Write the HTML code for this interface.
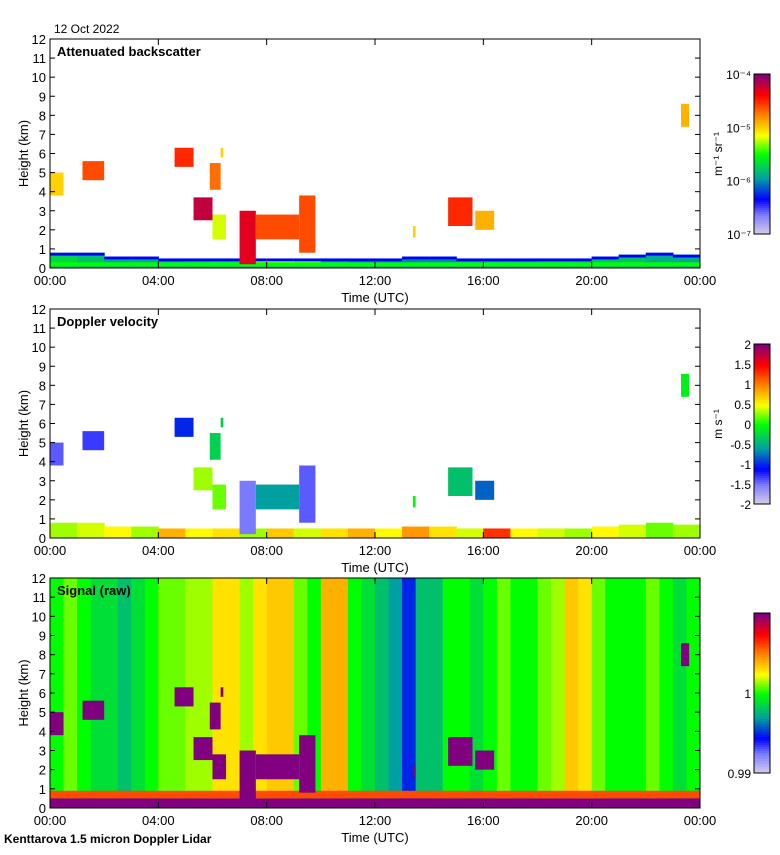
<!DOCTYPE html>
<html><head><meta charset="utf-8"><style>
body{margin:0;background:#fff;font-family:"Liberation Sans",sans-serif}
svg text{font-family:"Liberation Sans",sans-serif}
</style></head><body>
<svg id="c" width="780" height="850" xmlns="http://www.w3.org/2000/svg"></svg>
<script>
// ---- data ----
const timeTicks=["00:00","04:00","08:00","12:00","16:00","20:00","00:00"];
const heightTicks=[0,1,2,3,4,5,6,7,8,9,10,11,12];
const cloudStart=[0.0,1.2,4.6,5.9,5.3,6.0,7.0,7.6,9.2,13.4,14.7,15.7,23.3,6.3];
const cloudEnd  =[0.5,2.0,5.3,6.3,6.0,6.5,7.6,9.2,9.8,13.5,15.6,16.4,23.6,6.4];
const cloudBase =[3.8,4.6,5.3,4.1,2.5,1.5,0.2,1.5,0.8,1.6,2.2,2.0,7.4,5.8];
const cloudTop  =[5.0,5.6,6.3,5.5,3.7,2.8,3.0,2.8,3.8,2.2,3.7,3.0,8.6,6.3];
const cloudBeta =[-5.0,-4.6,-4.5,-4.7,-4.2,-5.2,-4.3,-4.6,-4.6,-5.0,-4.5,-4.9,-4.9,-5.0];
const cloudVel  =[-1.4,-1.3,-1.0,-0.3,0.3,0.2,-1.5,-0.6,-1.4,0.0,-0.4,-0.8,-0.1,-0.3];
const boundaryTop=[0.8,0.8,0.6,0.6,0.5,0.5,0.5,0.5,0.5,0.5,0.5,0.5,0.5,0.6,0.6,0.5,0.5,0.5,0.5,0.5,0.6,0.7,0.8,0.7];
const boundaryBeta=[-5.7,-5.8,-5.9,-5.9,-5.9,-5.8,-5.7,-5.0,-5.2,-5.3,-5.9,-6.0,-6.0,-6.0,-6.0,-5.9,-5.9,-5.9,-5.8,-5.8,-5.8,-5.8,-5.9,-5.9];
const boundaryVel=[0.3,0.4,0.5,0.3,0.8,0.5,0.6,0.3,0.7,0.4,0.6,0.8,0.5,0.9,0.6,0.4,1.3,0.5,0.4,0.3,0.5,0.4,0.2,0.3];
const signalBins=[1.000,1.001,1.000,0.999,0.999,0.998,0.999,1.000,1.001,1.001,1.0015,1.0015,1.003,1.003,1.0015,1.003,1.0035,1.0035,1.001,1.000,1.004,1.004,1.000,0.999,0.998,0.997,0.995,0.998,0.998,1.000,1.000,0.999,1.000,1.001,1.000,1.000,1.001,1.0015,1.0035,1.003,1.001,1.000,1.000,1.000,1.001,1.000,0.999,1.000];

const NS="http://www.w3.org/2000/svg";const svg=document.getElementById('c');
function el(t,a,p){const e=document.createElementNS(NS,t);for(const k in a)e.setAttribute(k,a[k]);(p||svg).appendChild(e);return e;}
const stops=[[0,[216,208,232]],[0.12,[128,128,255]],[0.22,[0,0,255]],[0.35,[0,160,160]],[0.5,[0,255,0]],[0.62,[255,255,0]],[0.75,[255,128,0]],[0.87,[255,0,0]],[1,[128,0,128]]];
function cmap(f){f=Math.max(0,Math.min(1,f));for(let i=1;i<stops.length;i++){if(f<=stops[i][0]){const a=stops[i-1],b=stops[i],u=(f-a[0])/(b[0]-a[0]);const c=a[1].map((v,j)=>Math.round(v+(b[1][j]-v)*u));return`rgb(${c})`;}}return'rgb(128,0,128)';}
const X0=50,X1=700;const xs=t=>X0+t/24*(X1-X0);
const panels=[{top:39,bot:268,title:"Attenuated backscatter"},{top:309,bot:538,title:"Doppler velocity"},{top:578,bot:808,title:"Signal (raw)"}];
const fBeta=b=>(b+7)/3,fVel=v=>(v+2)/4,fSig=s=>(s-0.99)/0.02;

panels.forEach((P,pi)=>{
  const ys=h=>P.bot-h/12*(P.bot-P.top);
  const g=el('g',{});
  
  
  if(pi===2){
    signalBins.forEach((s,i)=>{const r=el('rect',{x:xs(i/2),y:P.top,width:xs((i+1)/2)-xs(i/2)+0.5,height:P.bot-P.top,fill:cmap(fSig(s))},g);
      });
    el('rect',{x:X0,y:ys(0.9),width:X1-X0,height:ys(0.5)-ys(0.9),fill:cmap(0.8)},g);
    el('rect',{x:X0,y:ys(0.5),width:X1-X0,height:ys(0)-ys(0.5),fill:cmap(1)},g);
  } else {
    boundaryTop.forEach((h,i)=>{const c=pi===0?cmap(fBeta(boundaryBeta[i])):cmap(fVel(boundaryVel[i]));
      const r=el('rect',{x:xs(i),y:ys(h),width:xs(i+1)-xs(i)+0.5,height:ys(0)-ys(h),fill:c},g);
      
      if(pi===0){el('rect',{x:xs(i),y:ys(h),width:xs(i+1)-xs(i)+0.5,height:ys(h-0.15)-ys(h),fill:cmap(0.22)},g);
        el('rect',{x:xs(i),y:ys(0.3),width:xs(i+1)-xs(i)+0.5,height:ys(0.1)-ys(0.3),fill:cmap(0.5)},g);
        el('rect',{x:xs(i),y:ys(0.1),width:xs(i+1)-xs(i)+0.5,height:ys(0)-ys(0.1),fill:cmap(0.42)},g);}
    });
  }
  cloudStart.forEach((t0,i)=>{
    const c=pi===0?cmap(fBeta(cloudBeta[i])):pi===1?cmap(fVel(cloudVel[i])):cmap(1);
    const r=el('rect',{x:xs(t0),y:ys(cloudTop[i]),width:xs(cloudEnd[i])-xs(t0),height:ys(cloudBase[i])-ys(cloudTop[i]),fill:c},g);
    
  });
  el('rect',{x:X0,y:P.top,width:X1-X0,height:P.bot-P.top,fill:'none',stroke:'#000','stroke-width':1},g);
  heightTicks.forEach(h=>{const y=ys(h);el('line',{x1:X0,x2:X0+5,y1:y,y2:y,stroke:'#000'},g);el('line',{x1:X1,x2:X1-5,y1:y,y2:y,stroke:'#000'},g);
    const t=el('text',{x:X0-4,y:y+5,'text-anchor':'end','font-size':13},g);t.textContent=h;
    });
  timeTicks.forEach((s,i)=>{const x=xs(i*4);el('line',{x1:x,x2:x,y1:P.bot,y2:P.bot-6,stroke:'#000'},g);el('line',{x1:x,x2:x,y1:P.top,y2:P.top+6,stroke:'#000'},g);
    const t=el('text',{x:x,y:P.bot+17,'text-anchor':'middle','font-size':13},g);t.textContent=s;
    });
  let t=el('text',{x:375,y:P.bot+34,'text-anchor':'middle','font-size':13},g);t.textContent="Time (UTC)";
  
  t=el('text',{x:0,y:0,'text-anchor':'middle','font-size':13,transform:`translate(28,${(P.top+P.bot)/2}) rotate(-90)`},g);t.textContent="Height (km)";
  
  t=el('text',{x:57,y:P.top+17,'font-size':13,'font-weight':'bold'},g);t.textContent=P.title;
  
  const cb=el('g',{});
  const cT=P.top+35,cB=P.top+195;
  for(let k=0;k<80;k++){el('rect',{x:754,y:cT+k*2,width:16,height:2.5,fill:cmap(1-k/80)},cb);}
  el('rect',{x:754,y:cT,width:16,height:cB-cT,fill:'none',stroke:'#000'},cb);
  let labs,units;
  if(pi===0){labs=[["10\u207B\u2074",0],["10\u207B\u2075",1/3],["10\u207B\u2076",2/3],["10\u207B\u2077",1]];units="m\u207B\u00B9 sr\u207B\u00B9";}
  else if(pi===1){labs=["2","1.5","1","0.5","0","-0.5","-1","-1.5","-2"].map((s,k)=>[s,k/8]);units="m s\u207B\u00B9";}
  else {labs=[["1",0.5],["0.99",1]];units="";}
  labs.forEach(([s,f])=>{const tt=el('text',{x:751,y:cT+f*(cB-cT)+5,'text-anchor':'end','font-size':12},cb);tt.textContent=s;});
  if(units){const tt=el('text',{x:0,y:0,'text-anchor':'middle','font-size':12,transform:`translate(722,${(cT+cB)/2}) rotate(-90)`},cb);tt.textContent=units;}
});
let t=el('text',{x:54,y:33,'font-size':12});t.textContent="12 Oct 2022";

t=el('text',{x:4,y:843,'font-size':12,'font-weight':'bold'});t.textContent="Kenttarova 1.5 micron Doppler Lidar";

</script>
</body></html>
